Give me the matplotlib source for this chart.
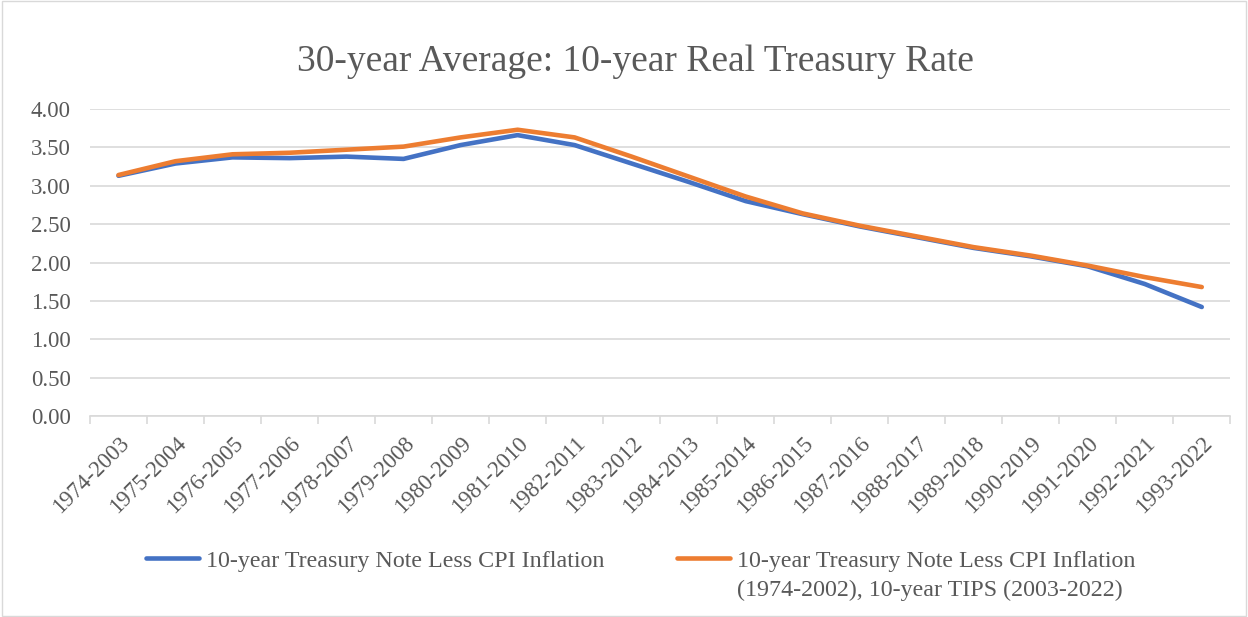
import matplotlib
matplotlib.use("Agg")
import matplotlib.pyplot as plt
from matplotlib.patches import Rectangle

# 30-year rolling average of the 10-year real Treasury rate
periods = ["1974-2003", "1975-2004", "1976-2005", "1977-2006", "1978-2007",
           "1979-2008", "1980-2009", "1981-2010", "1982-2011", "1983-2012",
           "1984-2013", "1985-2014", "1986-2015", "1987-2016", "1988-2017",
           "1989-2018", "1990-2019", "1991-2020", "1992-2021", "1993-2022"]

cpi_only = [3.13, 3.29, 3.37, 3.36, 3.38, 3.35, 3.53, 3.66, 3.53, 3.29,
            3.05, 2.80, 2.63, 2.47, 2.33, 2.19, 2.08, 1.95, 1.72, 1.42]

cpi_tips = [3.14, 3.32, 3.41, 3.43, 3.47, 3.51, 3.63, 3.73, 3.63, 3.38,
            3.12, 2.86, 2.64, 2.48, 2.34, 2.20, 2.09, 1.96, 1.81, 1.68]

label_cpi = "10-year Treasury Note Less CPI Inflation"
label_tips = ["10-year Treasury Note Less CPI Inflation",
              "(1974-2002), 10-year TIPS (2003-2022)"]

gray = "#595959"
plt.rcParams["font.family"] = ["Liberation Serif", "DejaVu Serif"]

fig = plt.figure(figsize=(12.48, 6.17), dpi=100)
ax = fig.add_axes([0.0721, 0.3258, 0.9137, 0.4975])

x = list(range(len(periods)))
ax.plot(x, cpi_only, color="#4472C4", lw=3.3, solid_capstyle="round", label=label_cpi)
ax.plot(x, cpi_tips, color="#ED7D31", lw=3.3, solid_capstyle="round", label=label_tips[0])

ax.set_xlim(-0.5, len(periods) - 0.5)
ax.set_ylim(0, 4)
ax.set_yticks([i * 0.5 for i in range(9)])
ax.set_yticklabels([f"{i * 0.5:.2f}" for i in range(9)])
ax.grid(axis="y", color="#d9d9d9", lw=1.2)
ax.set_axisbelow(True)

ax.set_xticks(x)
ax.set_xticklabels(periods, rotation=45, ha="right", rotation_mode="anchor")
ax.set_xticks([i - 0.5 for i in range(len(periods) + 1)], minor=True)
ax.tick_params(axis="x", which="major", length=0, pad=12, labelsize=16.5, labelcolor=gray)
ax.tick_params(axis="x", which="minor", length=6, color="#d9d9d9", width=1.2)
ax.tick_params(axis="y", length=0, pad=14, labelsize=16.5, labelcolor=gray)

for s in ["top", "right", "left"]:
    ax.spines[s].set_visible(False)
ax.spines["bottom"].set_color("#d9d9d9")
ax.spines["bottom"].set_linewidth(1.2)

fig.text(0.509, 0.900, "30-year Average: 10-year Real Treasury Rate",
         ha="center", va="center", fontsize=27, color=gray)

leg = fig.legend(loc="center left", bbox_to_anchor=(0.117, 0.0908), ncol=2,
                 frameon=False, fontsize=17.3, handlelength=2.2, handletextpad=0.3,
                 columnspacing=3.0, borderpad=0, borderaxespad=0)
for t in leg.get_texts():
    t.set_color(gray)

# second line of the orange legend entry, aligned under its first line
fig.canvas.draw()
bb = leg.get_texts()[1].get_window_extent().transformed(fig.transFigure.inverted())
fig.text(bb.x0, 0.0908 - 29 / 617, label_tips[1], ha="left", va="center",
         fontsize=17.3, color=gray)

# chart area border
fig.patches.append(Rectangle((0.002, 0.002), 0.996, 0.996, transform=fig.transFigure,
                             fill=False, edgecolor="#d9d9d9", lw=1))

fig.savefig("out.png", dpi=100)
